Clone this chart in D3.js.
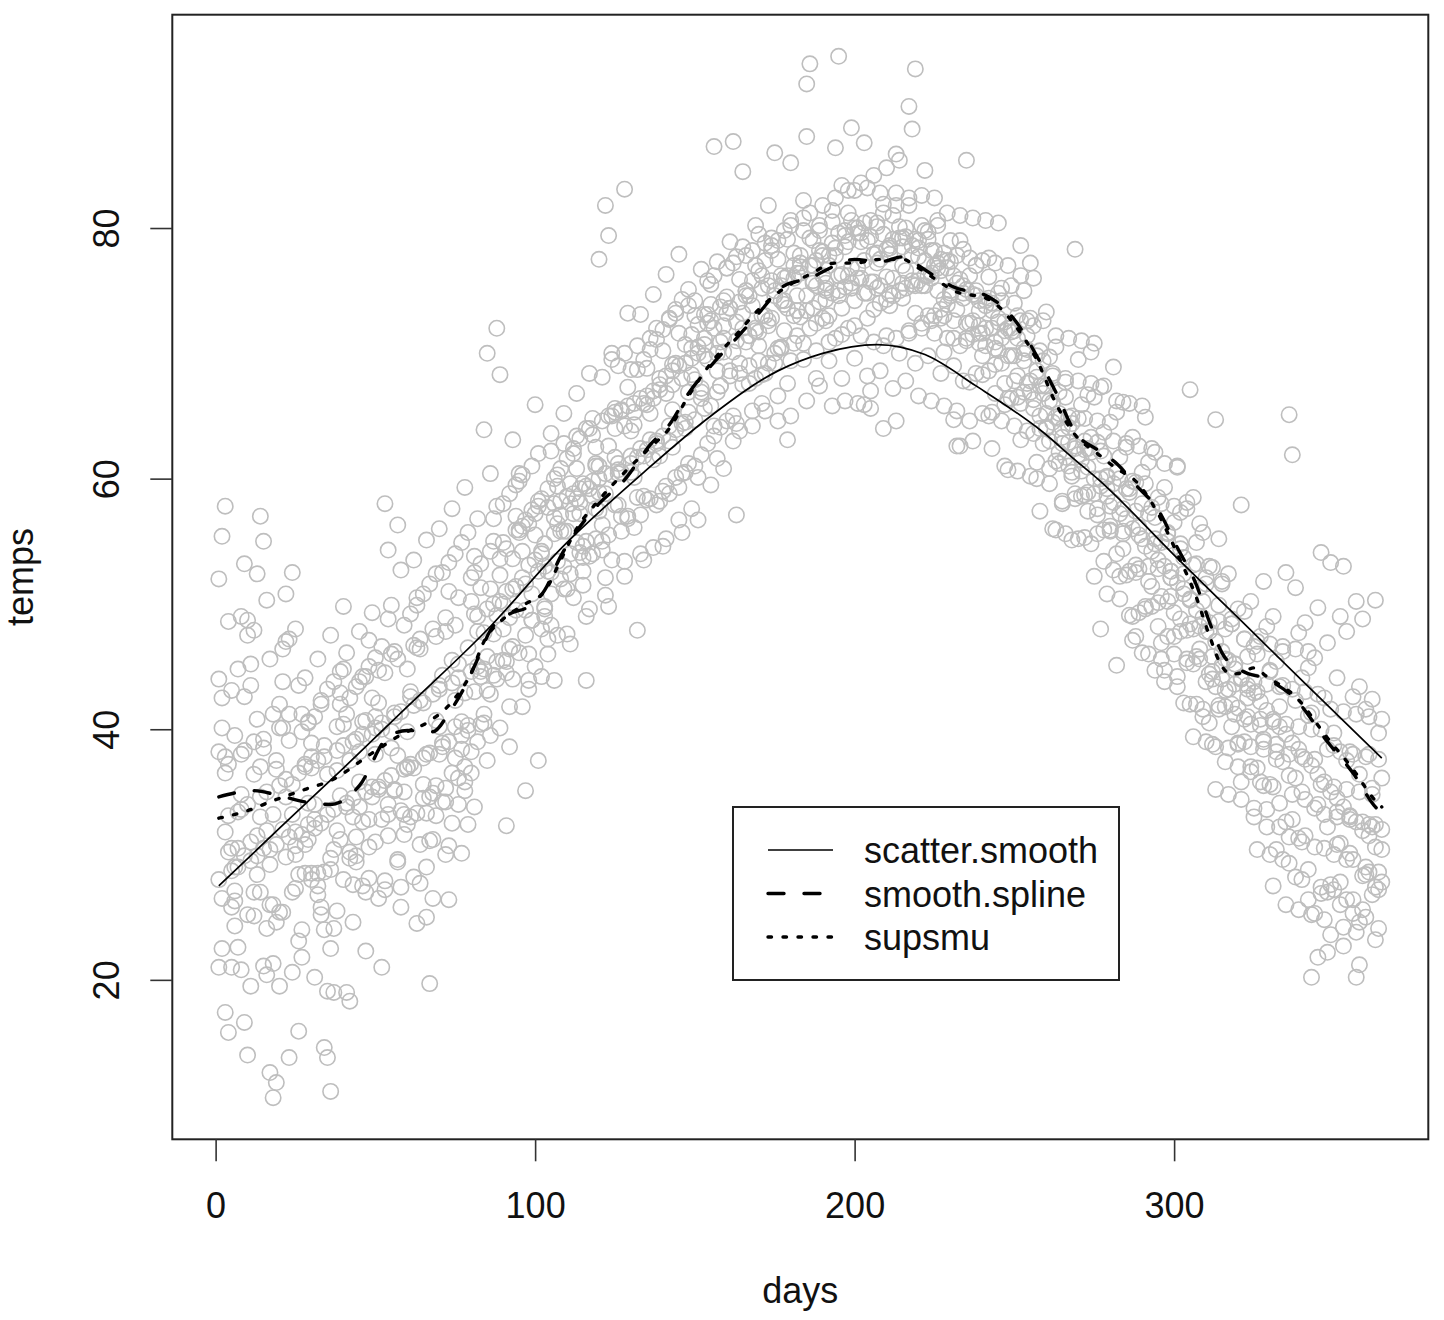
<!DOCTYPE html>
<html>
<head>
<meta charset="utf-8">
<script src="https://cdn.jsdelivr.net/npm/d3@7"></script>
<style>
  html, body { margin: 0; padding: 0; background: #fff; }
  svg { display: block; }
  text { font-family: "Liberation Sans", Arial, Helvetica, sans-serif; fill: #111; }
</style>
</head>
<body>
<svg id="chart" width="1444" height="1320"></svg>
<script>
// ---------------- data ----------------
const xTicks = [0, 100, 200, 300];
const yTicks = [20, 40, 60, 80];
const xLabel = "days";
const yLabel = "temps";
const legendLabels = ["scatter.smooth", "smooth.spline", "supsmu"];

// daily temperatures, five years, day 1..365
const year1 = [
44.0,40.1,36.5,30.2,25.8,27.1,33.4,38.0,42.6,47.5,
45.2,39.0,31.5,27.0,21.1,20.4,26.0,33.2,36.8,40.1,
43.8,47.0,41.2,35.6,30.0,28.4,31.6,37.2,40.5,38.9,
34.0,28.5,25.2,24.0,19.1,22.5,30.4,36.7,42.0,44.8,
41.2,37.5,33.0,29.4,35.8,40.6,44.2,47.1,42.5,38.0,
35.2,40.0,44.5,48.8,46.0,41.3,37.9,33.5,35.0,39.8,
43.0,46.7,50.5,47.2,42.1,38.0,34.6,31.2,35.5,40.2,
44.3,47.8,51.0,45.5,40.2,36.1,38.4,42.9,46.5,50.2,
53.8,49.0,44.2,40.5,45.8,51.2,55.0,57.8,52.3,48.0,
44.5,48.9,53.6,57.0,59.8,54.2,49.5,46.0,50.8,55.5,
58.2,54.0,49.8,47.2,52.5,56.9,60.3,57.1,53.0,55.8,
59.6,62.0,58.4,54.1,51.5,55.0,59.2,63.5,61.0,57.4,
55.0,58.8,62.6,65.0,61.7,57.9,60.5,64.2,67.3,63.8,
60.1,58.5,62.4,66.0,68.8,65.2,61.5,63.0,67.1,70.2,
66.8,63.0,65.5,69.2,71.6,68.0,64.5,66.9,70.4,73.0,
70.5,67.2,69.8,73.1,75.5,72.0,68.6,70.9,74.2,76.8,
73.6,70.1,72.5,75.9,84.5,75.0,71.4,73.8,77.0,79.5,
76.2,73.0,75.4,78.6,86.0,77.5,74.2,76.0,79.1,85.2,
78.0,74.6,76.9,79.8,87.3,79.2,75.8,77.4,80.2,78.1,
75.2,77.8,80.5,86.4,79.6,76.3,78.5,81.2,88.0,80.0,
76.8,78.9,86.8,79.0,75.7,77.9,80.4,82.8,79.5,76.1,
78.4,81.0,85.9,80.1,77.0,79.3,81.8,78.6,75.4,77.7,
80.2,84.6,79.1,76.0,78.2,80.6,77.5,74.3,76.8,79.0,
76.2,73.5,75.9,78.3,75.1,72.4,74.7,77.0,74.2,71.6,
73.8,76.1,73.4,70.9,72.8,75.2,72.5,69.8,71.7,74.0,
71.2,78.6,70.4,72.6,77.2,66.3,68.1,70.2,66.8,64.0,
66.2,68.4,64.9,62.1,64.0,66.5,62.9,60.2,62.4,64.8,
61.5,58.7,60.9,63.3,60.0,57.1,59.4,61.8,58.6,55.8,
58.1,60.5,57.2,54.4,56.8,59.2,56.0,53.1,55.5,58.0,
54.6,51.8,54.2,56.9,53.5,50.6,53.0,55.6,52.1,49.3,
51.7,54.4,50.8,47.9,50.3,53.1,49.5,46.4,48.9,51.6,
47.8,44.6,47.0,49.9,46.2,43.1,45.5,48.4,44.8,41.7,
44.1,47.2,43.5,40.4,42.9,46.0,42.2,39.0,41.5,44.7,
40.8,37.6,40.2,43.5,39.6,36.3,38.9,42.3,38.4,35.0,
37.6,41.1,37.1,33.7,36.4,40.0,35.8,32.2,35.0,38.7,
34.5,30.9,33.8,37.5,33.1,29.6,32.6,36.4,31.9,28.4,
31.5,35.3,30.6,27.2,30.4
];
const year2 = [
28.0,22.5,17.4,15.8,21.0,26.3,30.5,34.8,29.9,25.2,
31.0,36.4,40.8,37.0,30.5,24.1,12.6,10.6,11.8,19.5,
25.4,29.8,13.8,20.6,27.3,15.9,24.0,30.8,34.1,28.5,
20.2,26.8,32.5,14.6,13.8,11.1,19.0,25.5,31.2,28.0,
19.0,18.3,24.6,29.9,33.8,27.5,22.3,28.1,34.6,31.0,
26.5,21.0,27.9,33.2,38.5,35.1,29.4,25.8,31.6,36.9,
33.0,28.2,24.5,30.8,35.6,29.0,19.7,26.5,33.1,38.0,
34.2,30.0,26.4,32.5,37.7,34.0,30.1,35.8,40.3,36.5,
33.8,39.0,44.6,41.2,37.5,42.8,47.6,44.0,40.1,45.5,
32.3,38.6,44.0,49.5,46.1,41.8,35.1,43.2,48.7,45.0,
37.5,44.2,49.0,52.6,48.3,43.9,47.5,52.0,55.8,51.2,
46.8,50.5,54.9,58.1,53.7,43.9,49.6,54.0,57.6,61.0,
56.3,52.1,49.8,53.5,57.9,61.2,57.0,53.4,56.8,60.5,
56.1,47.9,54.0,58.6,62.3,58.4,54.5,57.9,61.8,59.0,
55.2,58.8,62.5,60.1,56.7,60.4,64.0,61.2,57.6,61.0,
56.7,61.9,65.6,62.8,59.5,63.4,66.9,64.1,60.8,64.6,
68.2,65.0,57.1,63.8,67.5,70.9,67.6,64.2,68.0,71.7,
68.3,65.4,69.2,72.8,70.0,66.6,70.5,73.9,63.1,69.4,
73.0,76.4,72.9,69.5,73.4,77.0,73.6,70.2,74.1,77.8,
74.3,70.9,74.8,78.4,75.0,71.5,75.3,78.9,75.6,72.2,
76.0,79.6,65.9,72.8,67.0,73.5,77.2,74.0,70.6,74.3,
77.9,74.6,71.2,75.0,78.5,75.2,71.8,75.5,79.1,75.8,
72.4,76.2,79.7,76.4,73.0,76.8,73.5,70.1,73.9,77.3,
64.7,62.6,70.6,74.4,71.0,67.7,71.5,75.0,71.6,68.3,
72.0,68.6,65.3,69.1,72.5,69.2,65.9,60.7,66.4,69.8,
66.5,63.1,66.9,70.3,66.9,63.6,61.3,64.0,67.4,64.1,
60.8,64.5,55.9,61.2,58.0,61.7,64.9,55.1,58.4,61.9,
58.6,55.3,58.9,62.1,58.8,55.6,48.0,55.9,59.2,55.9,
52.7,45.1,52.2,55.6,52.3,49.1,47.1,52.5,49.3,46.1,
49.8,53.0,49.8,44.7,50.1,46.9,43.8,47.4,50.6,47.4,
44.2,47.8,42.1,45.3,48.4,45.2,42.0,45.6,41.0,43.8,
40.5,44.0,38.6,41.9,45.1,41.8,38.5,42.0,45.2,38.9,
35.8,39.0,42.5,37.0,33.7,36.9,40.3,35.5,32.2,35.6,
27.5,30.4,34.1,37.4,32.6,29.3,32.8,36.1,31.3,28.0,
31.5,26.4,20.2,25.3,21.8,26.9,30.5,27.0,23.6,27.2,
30.8,26.0,22.7,26.4,30.1,25.3,20.2,24.6,28.3,25.0,
28.6,32.2,27.4,24.1,27.8
];
const year3 = [
52.0,55.4,57.8,48.6,43.1,39.5,44.8,49.0,53.2,48.7,
43.5,47.9,52.4,57.0,55.0,50.3,45.6,41.2,37.5,42.0,
46.4,50.8,47.2,52.5,48.0,43.5,39.8,44.1,40.6,36.9,
41.0,45.6,42.3,38.7,43.2,47.5,43.8,40.2,44.6,49.8,
46.1,42.5,39.0,43.4,47.8,44.2,40.7,45.0,49.3,45.7,
42.1,46.6,58.0,54.3,49.9,46.2,56.3,52.7,48.3,44.8,
49.2,53.5,49.9,46.4,50.8,55.1,51.6,48.0,52.4,56.0,
52.5,48.9,53.3,57.6,54.0,50.5,54.9,59.3,55.7,52.1,
52.5,56.8,53.2,63.9,70.0,60.4,56.8,72.0,68.3,58.0,
54.4,58.8,63.1,59.5,55.9,60.3,56.7,53.1,57.5,65.9,
62.0,58.4,54.8,59.2,63.6,60.0,56.4,60.8,65.2,61.6,
58.0,62.4,66.8,63.2,59.6,64.0,68.4,64.8,61.2,77.5,
68.1,81.8,79.4,70.0,65.6,69.0,65.4,83.1,73.2,68.7,
64.3,68.7,73.1,69.5,65.9,70.3,74.7,71.1,67.5,71.9,
76.3,72.7,69.1,73.5,77.9,74.3,70.7,75.1,71.5,67.9,
72.3,76.7,73.1,69.5,73.9,86.5,77.3,73.7,70.1,74.5,
78.9,86.9,77.7,74.1,78.5,75.0,71.4,75.8,80.2,76.6,
73.0,77.4,81.8,78.2,74.6,79.0,75.4,71.8,76.2,80.6,
77.0,73.4,77.8,82.2,91.5,93.1,79.0,75.4,79.8,76.2,
72.6,77.0,81.4,77.8,93.7,83.4,79.8,76.2,80.6,83.0,
79.6,76.0,80.4,83.2,79.3,75.7,80.1,77.5,81.9,78.3,
74.7,79.1,82.8,79.2,75.6,80.0,89.7,87.9,92.7,79.0,
75.4,79.8,76.2,72.6,77.0,80.2,76.6,73.0,77.4,74.8,
71.2,75.6,79.0,75.4,85.4,76.2,72.6,77.0,73.4,69.8,
74.2,77.6,74.0,70.4,74.8,71.2,67.6,72.0,75.4,71.8,
68.2,72.6,75.0,71.4,67.8,72.2,68.6,65.0,69.4,73.3,
69.7,66.1,70.5,66.9,63.3,67.7,64.1,60.5,78.3,69.5,
65.9,62.3,66.7,70.1,66.5,62.9,67.3,63.7,60.1,64.5,
68.9,65.3,61.7,66.1,62.5,58.9,63.3,59.7,56.1,60.5,
64.9,61.3,57.7,62.1,58.5,54.9,59.3,55.7,52.1,56.5,
60.9,57.3,53.7,58.1,67.1,58.5,54.9,51.3,55.7,52.1,
48.5,52.9,64.7,55.2,51.6,48.0,52.4,48.8,45.2,49.6,
57.9,49.4,45.8,50.2,46.6,43.0,47.4,51.8,48.2,44.6,
49.0,45.4,41.8,46.2,52.5,65.1,61.9,51.3,47.7,44.1,
48.5,44.9,41.3,45.7,49.7,54.1,42.5,46.9,53.3,39.7,
44.1,49.0,53.0,47.8,38.2,42.6,50.2,43.4,48.8,41.6,
38.0,42.4,50.3,39.7,36.1
];
const year4 = [
21.0,26.5,31.8,37.2,30.5,29.0,22.6,20.8,16.6,14.0,
19.5,27.0,28.4,33.0,38.5,31.9,29.2,21.3,24.6,25.4,
32.0,34.6,39.1,33.2,30.7,23.1,21.8,28.5,31.2,37.8,
32.1,27.5,25.8,28.6,36.4,29.7,24.1,31.9,34.7,40.4,
33.8,30.2,27.6,31.4,38.2,32.6,27.0,32.8,39.6,41.0,
35.4,32.8,27.2,34.0,39.8,35.2,29.6,27.4,33.2,37.0,
42.6,36.9,33.3,27.7,34.5,25.0,31.1,34.9,40.7,43.5,
38.9,35.3,30.7,36.5,42.3,45.2,40.6,37.0,32.4,38.2,
43.0,47.8,51.3,47.7,43.1,39.5,44.3,49.1,53.6,50.0,
45.4,41.8,46.6,51.4,55.7,52.1,47.5,43.9,48.7,53.5,
57.8,54.2,49.6,46.0,50.8,55.6,59.4,55.8,51.2,47.6,
52.4,57.2,60.8,57.2,52.6,49.0,53.8,58.6,62.5,58.9,
54.3,50.7,55.5,60.3,64.0,60.4,55.8,52.2,57.0,61.8,
65.3,61.7,57.1,53.5,58.3,63.1,66.4,62.8,58.2,54.6,
59.4,64.2,67.5,63.9,59.3,55.7,60.5,65.3,68.3,64.7,
60.1,66.9,70.7,72.4,65.8,64.2,61.6,67.4,71.2,73.2,
68.6,63.0,64.4,69.2,72.0,74.6,69.0,65.4,71.8,70.6,
66.0,68.4,72.2,75.8,69.2,64.6,70.4,74.2,67.6,65.0,
70.8,73.4,76.4,70.8,66.2,72.0,75.6,68.0,67.4,72.8,
75.0,69.4,65.8,71.2,74.6,68.0,66.2,72.0,75.2,69.6,
66.0,71.4,74.8,68.2,65.6,70.9,75.2,68.6,64.0,71.4,
73.8,67.2,64.6,70.0,74.4,67.8,71.6,75.8,69.2,66.6,
72.0,75.4,69.8,66.2,71.6,75.0,68.4,65.8,71.2,74.6,
69.0,65.4,62.6,67.8,71.2,64.6,63.0,68.4,70.8,65.2,
70.6,65.0,62.4,66.8,70.2,64.6,61.0,66.4,69.8,64.2,
60.6,66.0,69.4,63.8,60.2,65.6,60.0,57.4,62.8,65.2,
59.6,56.0,61.4,64.8,58.2,55.6,61.0,64.4,58.8,55.2,
60.6,63.0,57.4,54.8,52.2,57.6,60.0,53.4,50.8,56.2,
59.6,54.0,50.4,55.8,59.2,52.6,49.0,47.4,52.8,55.2,
49.6,46.0,51.4,54.8,48.2,45.6,44.7,50.2,52.6,46.0,
43.4,48.8,51.2,45.6,42.0,39.4,45.8,48.2,41.6,39.0,
44.4,38.8,35.2,41.6,44.0,37.4,34.8,40.2,43.6,37.0,
34.4,40.8,43.2,36.6,33.0,30.4,35.8,39.2,33.6,30.0,
35.4,38.8,32.2,29.6,26.0,31.4,34.8,28.2,25.6,31.0,
34.4,28.8,25.2,30.6,34.0,27.4,24.8,22.2,27.6,30.0,
33.4,27.8,24.2,29.6,33.0,26.4,23.8,21.2,25.6,29.0,
32.4,26.8,23.2,28.6,32.0
];
const year5 = [
38.2,42.5,37.8,33.1,28.7,24.3,29.0,33.6,38.3,34.0,
29.5,25.1,29.9,34.6,39.2,35.0,30.4,26.0,30.8,35.5,
40.1,36.0,31.4,27.0,31.8,36.5,41.2,37.0,32.4,28.0,
32.8,37.5,42.0,37.8,33.2,28.8,33.6,38.3,42.9,38.7,
34.1,29.7,34.5,39.2,43.8,39.6,35.0,30.6,35.4,40.1,
44.7,40.5,35.9,31.5,36.3,41.0,45.6,41.4,36.8,32.4,
37.2,41.9,46.5,42.3,37.7,33.3,38.1,42.8,47.4,43.2,
38.6,34.2,39.0,43.7,48.3,44.1,39.5,35.1,39.9,44.6,
49.2,45.0,40.4,44.8,49.6,54.2,50.0,45.4,50.2,54.9,
51.0,46.4,51.2,55.9,60.4,56.2,51.6,56.4,61.0,57.2,
52.6,48.0,53.0,57.7,62.2,58.0,53.4,58.2,62.8,58.6,
54.0,58.8,63.4,59.2,54.6,59.4,64.0,59.8,55.2,60.0,
64.6,60.4,65.0,69.5,65.3,60.7,65.5,70.0,65.8,61.2,
66.0,70.6,66.4,61.8,66.6,71.2,67.0,72.0,68.0,63.4,
68.2,72.8,68.6,73.2,69.0,64.4,69.2,73.8,69.6,74.2,
70.0,66.4,71.2,75.8,72.6,76.2,70.0,67.4,72.2,76.8,
73.6,77.2,71.0,68.4,73.2,77.8,74.6,78.2,72.0,69.4,
75.2,78.8,72.6,79.2,75.0,70.4,76.2,79.8,73.6,80.2,
76.0,71.4,77.2,80.8,74.6,81.2,77.0,72.4,78.2,81.8,
75.6,73.0,78.8,82.4,76.2,73.6,79.4,83.0,76.8,74.2,
80.0,83.6,77.4,74.8,80.6,84.2,78.0,75.4,81.2,84.8,
78.6,76.0,81.8,85.4,79.2,76.6,82.4,77.8,73.2,78.4,
82.6,77.4,73.0,78.2,82.4,77.2,72.8,78.0,81.2,75.0,
72.6,77.8,81.0,74.8,72.4,77.6,80.8,74.6,72.2,77.4,
80.6,74.4,72.0,77.2,80.4,74.2,71.8,77.0,72.0,67.8,
73.0,76.2,70.0,67.6,72.8,76.0,69.8,67.4,72.6,67.4,
63.0,68.2,71.4,65.2,62.8,68.0,71.2,65.0,62.6,67.8,
71.0,64.8,62.4,67.6,70.8,64.6,62.2,67.4,60.2,57.8,
63.0,66.2,60.0,57.6,62.8,66.0,59.8,57.4,62.6,65.8,
59.6,57.2,62.4,55.2,52.8,58.0,61.2,55.0,52.6,57.8,
61.0,54.8,52.4,57.6,50.4,48.0,53.2,56.4,50.2,47.8,
53.0,45.8,43.4,48.6,51.8,45.6,43.2,48.4,41.2,38.8,
44.0,47.2,41.0,38.6,43.8,47.0,40.8,38.4,43.6,46.8,
40.6,38.2,43.4,46.6,40.4,38.0,43.2,46.4,40.2,37.8,
43.0,46.2,40.0,37.6,42.8,35.6,33.2,38.4,41.6,35.4,
33.0,38.2,41.4,35.2,32.8,38.0,41.2,35.0,32.6,37.8,
41.0,34.8,32.4,37.6,40.8
];

// fitted curves
const loessDays  = [1, 20, 40, 60, 86, 108, 134, 155, 176, 190, 207, 222, 238, 259, 269, 276, 300, 320, 340, 365];
const loessTemps = [27.5, 32.1, 36.9, 41.8, 48.2, 54.4, 60.5, 65.0, 68.6, 70.0, 70.7, 69.9, 67.4, 63.7, 61.5, 60.0, 53.9, 48.9, 43.9, 37.7];

const splineDays  = [1, 12, 20, 28, 36, 45, 54, 60, 68, 73, 78, 82, 86, 92, 98, 103, 108, 113, 120, 128, 136, 142, 148, 155, 163, 170, 178, 186, 194, 200, 208, 215, 220, 226, 231, 242, 250, 257, 263, 269, 276, 282, 288, 295, 301, 307, 311, 315, 321, 329, 338, 348, 356, 363, 365];
const splineTemps = [34.6, 35.1, 34.7, 34.2, 34.0, 35.5, 39.4, 39.9, 39.8, 41.3, 43.4, 45.6, 47.9, 49.2, 49.8, 51.1, 53.8, 55.8, 58.0, 59.9, 62.7, 64.3, 66.8, 69.0, 71.2, 73.2, 75.4, 76.0, 77.0, 77.5, 77.3, 77.7, 77.0, 76.0, 75.3, 74.5, 72.7, 69.8, 66.9, 63.7, 62.3, 61.2, 59.5, 57.5, 54.5, 51.5, 48.6, 46.1, 44.7, 44.0, 42.4, 39.0, 36.5, 33.8, 33.3];

const supsmuDays  = [1, 10, 18, 28, 36, 49, 59, 66, 74, 80, 84, 90, 97, 103, 108, 113, 120, 128, 136, 142, 148, 155, 163, 170, 178, 186, 194, 200, 208, 215, 220, 226, 231, 242, 250, 257, 263, 269, 276, 282, 288, 295, 301, 307, 311, 315, 318, 321, 325, 329, 338, 348, 356, 363, 365];
const supsmuTemps = [32.9, 33.5, 34.3, 35.2, 35.9, 38.1, 39.7, 40.5, 42.2, 44.5, 47.0, 48.8, 50.0, 51.0, 53.5, 56.0, 58.3, 60.5, 62.5, 64.0, 66.6, 69.2, 71.5, 73.5, 75.2, 76.3, 77.2, 77.2, 77.5, 77.5, 76.8, 75.8, 75.0, 74.3, 72.3, 69.5, 66.0, 63.5, 62.0, 60.8, 59.8, 57.2, 54.0, 50.5, 47.5, 45.0, 44.4, 44.5, 44.9, 44.2, 42.6, 39.3, 36.8, 34.3, 33.8];

// ---------------- drawing ----------------
const svg = d3.select("#chart");
svg.append("rect").attr("width", 1444).attr("height", 1320).attr("fill", "#fff");

const days = d3.range(1, 366);
const years = [year1, year2, year3, year4, year5];
const points = [];
years.forEach(arr => arr.forEach((t, i) => points.push({ d: days[i], t: t })));

const plot = { left: 172.3, right: 1428.3, top: 14.7, bottom: 1139.3 };
const xExt = d3.extent(points, p => p.d);
const yExt = d3.extent(points, p => p.t);
const xPad = (xExt[1] - xExt[0]) * 0.04;
const yPad = (yExt[1] - yExt[0]) * 0.04;
const x = d3.scaleLinear().domain([xExt[0] - xPad, xExt[1] + xPad]).range([plot.left, plot.right]);
const y = d3.scaleLinear().domain([yExt[0] - yPad, yExt[1] + yPad]).range([plot.bottom, plot.top]);

// points
svg.append("g").selectAll("circle").data(points).join("circle")
  .attr("cx", p => x(p.d))
  .attr("cy", p => y(p.t))
  .attr("r", 7.7)
  .attr("fill", "none")
  .attr("stroke", "#BEBEBE")
  .attr("stroke-width", 1.6);

// curves
const styles = [
  { w: 1.7, dash: null },
  { w: 3.4, dash: "16,20" },
  { w: 3.4, dash: "3.5,11.5" }
];
const curveSets = [
  [loessDays, loessTemps],
  [splineDays, splineTemps],
  [supsmuDays, supsmuTemps]
];
const line = d3.line().x(p => x(p[0])).y(p => y(p[1])).curve(d3.curveMonotoneX);
curveSets.forEach((cs, i) => {
  const pts = cs[0].map((d, j) => [d, cs[1][j]]);
  svg.append("path")
    .attr("d", line(pts))
    .attr("fill", "none")
    .attr("stroke", "#000")
    .attr("stroke-width", styles[i].w)
    .attr("stroke-linecap", i === 0 ? "butt" : "round")
    .attr("stroke-dasharray", styles[i].dash);
});

// box
svg.append("rect")
  .attr("x", plot.left).attr("y", plot.top)
  .attr("width", plot.right - plot.left).attr("height", plot.bottom - plot.top)
  .attr("fill", "none").attr("stroke", "#222").attr("stroke-width", 2);

// x axis
const gx = svg.append("g").attr("transform", `translate(0,${plot.bottom})`)
  .call(d3.axisBottom(x).tickValues(xTicks).tickSize(22).tickFormat(d3.format("d")));
gx.select(".domain").remove();
gx.selectAll(".tick line").attr("stroke", "#333").attr("stroke-width", 1.6);
gx.selectAll(".tick text")
  .attr("y", 79).attr("dy", null)
  .attr("font-size", 36).attr("fill", "#111")
  .attr("font-family", "Liberation Sans, Arial, sans-serif");

// y axis
const gy = svg.append("g").attr("transform", `translate(${plot.left},0)`)
  .call(d3.axisLeft(y).tickValues(yTicks).tickSize(22).tickFormat(d3.format("d")));
gy.select(".domain").remove();
gy.selectAll(".tick line").attr("stroke", "#333").attr("stroke-width", 1.6);
gy.selectAll(".tick text")
  .attr("x", null).attr("dy", null)
  .attr("transform", "translate(-53.3,0) rotate(-90)")
  .attr("text-anchor", "middle")
  .attr("font-size", 36).attr("fill", "#111")
  .attr("font-family", "Liberation Sans, Arial, sans-serif");

// axis titles
svg.append("text")
  .attr("x", (plot.left + plot.right) / 2).attr("y", 1303)
  .attr("text-anchor", "middle").attr("font-size", 36)
  .text(xLabel);
svg.append("text")
  .attr("transform", `translate(33,${(plot.top + plot.bottom) / 2}) rotate(-90)`)
  .attr("text-anchor", "middle").attr("font-size", 36)
  .text(yLabel);

// legend
const lg = svg.append("g");
lg.append("rect")
  .attr("x", 733).attr("y", 807).attr("width", 386).attr("height", 173)
  .attr("fill", "#fff").attr("stroke", "#222").attr("stroke-width", 2);
const rowY = [850, 893.5, 937];
legendLabels.forEach((lab, i) => {
  lg.append("line")
    .attr("x1", 768).attr("x2", 833)
    .attr("y1", rowY[i]).attr("y2", rowY[i])
    .attr("stroke", "#000")
    .attr("stroke-width", styles[i].w)
    .attr("stroke-linecap", i === 0 ? "butt" : "round")
    .attr("stroke-dasharray", styles[i].dash);
  lg.append("text")
    .attr("x", 864).attr("y", rowY[i] + 13)
    .attr("font-size", 36)
    .text(lab);
});
</script>
</body>
</html>
